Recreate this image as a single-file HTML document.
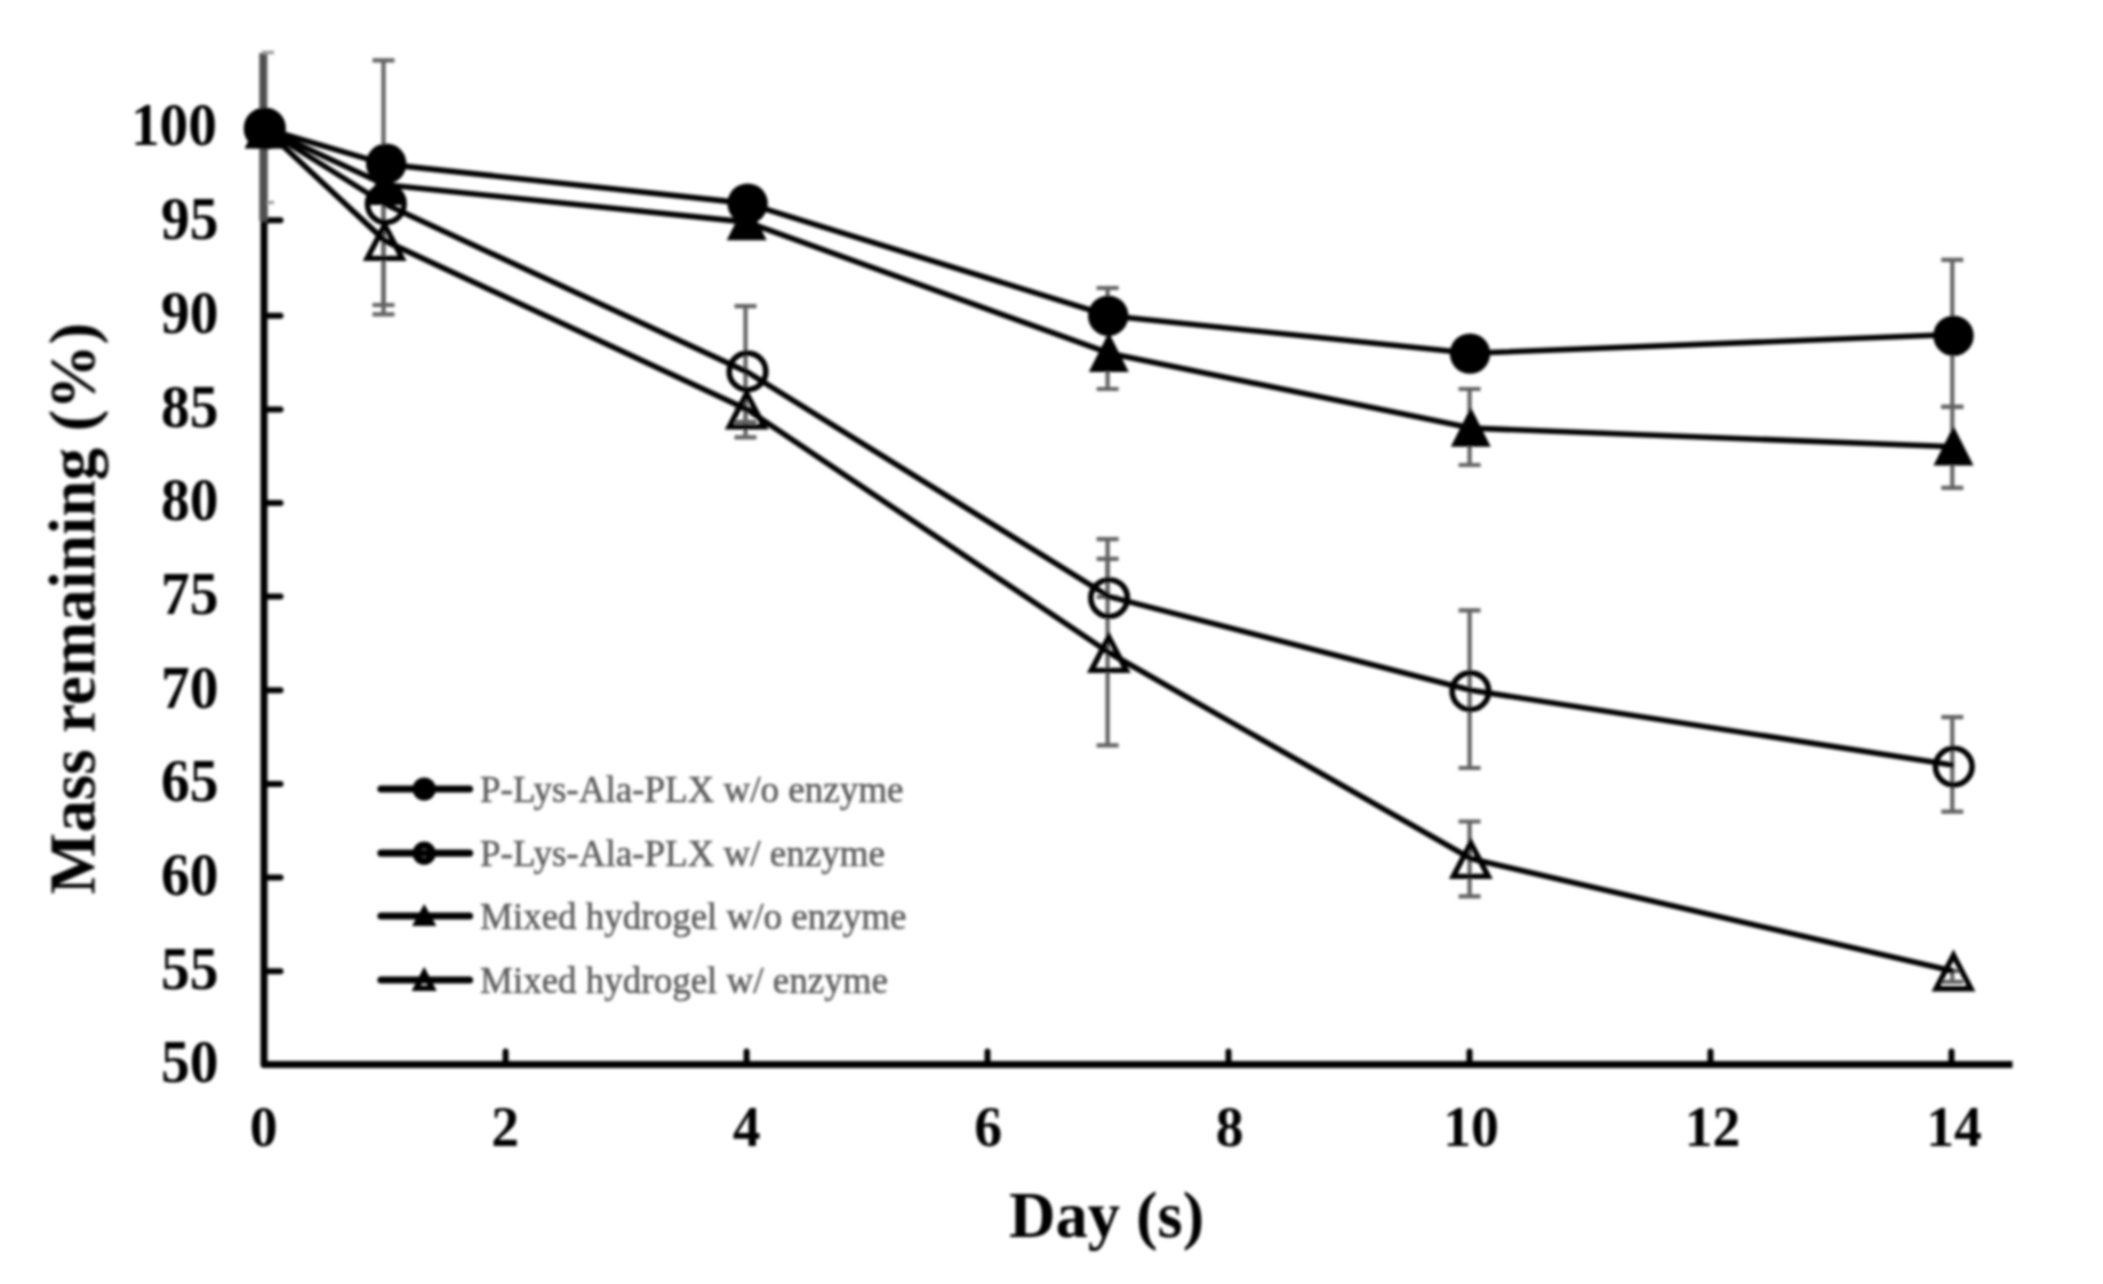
<!DOCTYPE html>
<html lang="en"><head><meta charset="utf-8"><title>Mass remaining vs Day</title>
<style>html,body{margin:0;padding:0;background:#fff}body{width:2103px;height:1284px;overflow:hidden}svg{display:block}text{font-family:"Liberation Serif",serif}.b{font-weight:bold;fill:#000}.tk{font-size:57.4px}.ax{font-size:64.5px}.lg{font-size:37px;fill:#5c5c5c;stroke:#5c5c5c;stroke-width:0.6px}</style></head><body>
<svg width="2103" height="1284" viewBox="0 0 2103 1284">
<defs><filter id="bl" x="-2%" y="-2%" width="104%" height="104%"><feGaussianBlur stdDeviation="1.5"/></filter><filter id="bl2" x="-2%" y="-5%" width="104%" height="110%"><feGaussianBlur stdDeviation="1.65"/></filter></defs>
<rect width="2103" height="1284" fill="#fff"/>
<g filter="url(#bl)">
<path d="M264 128.5 V1064.6 H2012.5" fill="none" stroke="#000" stroke-width="7" stroke-linecap="butt" stroke-linejoin="round"/>
<line x1="266" x2="280.5" y1="971.2" y2="971.2" stroke="#000" stroke-width="6" stroke-linecap="round"/>
<line x1="266" x2="280.5" y1="877.5" y2="877.5" stroke="#000" stroke-width="6" stroke-linecap="round"/>
<line x1="266" x2="280.5" y1="783.9" y2="783.9" stroke="#000" stroke-width="6" stroke-linecap="round"/>
<line x1="266" x2="280.5" y1="690.3" y2="690.3" stroke="#000" stroke-width="6" stroke-linecap="round"/>
<line x1="266" x2="280.5" y1="596.6" y2="596.6" stroke="#000" stroke-width="6" stroke-linecap="round"/>
<line x1="266" x2="280.5" y1="503.0" y2="503.0" stroke="#000" stroke-width="6" stroke-linecap="round"/>
<line x1="266" x2="280.5" y1="409.4" y2="409.4" stroke="#000" stroke-width="6" stroke-linecap="round"/>
<line x1="266" x2="280.5" y1="315.8" y2="315.8" stroke="#000" stroke-width="6" stroke-linecap="round"/>
<line x1="266" x2="280.5" y1="220.3" y2="220.3" stroke="#000" stroke-width="6" stroke-linecap="round"/>
<line x1="505.6" x2="505.6" y1="1062" y2="1051.5" stroke="#000" stroke-width="6" stroke-linecap="round"/>
<line x1="746.6" x2="746.6" y1="1062" y2="1051.5" stroke="#000" stroke-width="6" stroke-linecap="round"/>
<line x1="987.5" x2="987.5" y1="1062" y2="1051.5" stroke="#000" stroke-width="6" stroke-linecap="round"/>
<line x1="1228.5" x2="1228.5" y1="1062" y2="1051.5" stroke="#000" stroke-width="6" stroke-linecap="round"/>
<line x1="1469.5" x2="1469.5" y1="1062" y2="1051.5" stroke="#000" stroke-width="6" stroke-linecap="round"/>
<line x1="1710.5" x2="1710.5" y1="1062" y2="1051.5" stroke="#000" stroke-width="6" stroke-linecap="round"/>
<line x1="1951.5" x2="1951.5" y1="1062" y2="1051.5" stroke="#000" stroke-width="6" stroke-linecap="round"/>
<g stroke="#626262" stroke-width="4.2" fill="none">
<path d="M383.5 60.4 V305.0 M372.5 60.4 h22 M372.5 305.0 h22"/>
<path d="M383.5 164.0 V314.4 M372.5 164.0 h22 M372.5 314.4 h22"/>
<path d="M745.5 306.2 V437.3 M734.5 306.2 h22 M734.5 437.3 h22"/>
<path d="M745.5 409.0 V421.8 M734.5 409.0 h22 M734.5 421.8 h22"/>
<path d="M1107.6 288.0 V316.0 M1096.6 288.0 h22 M1096.6 316.0 h22"/>
<path d="M1107.6 316.0 V389.0 M1096.6 316.0 h22 M1096.6 389.0 h22"/>
<path d="M1107.6 539.2 V597.0 M1096.6 539.2 h22 M1096.6 597.0 h22"/>
<path d="M1107.6 558.9 V745.3 M1096.6 558.9 h22 M1096.6 745.3 h22"/>
<path d="M1469.6 389.0 V465.0 M1458.6 389.0 h22 M1458.6 465.0 h22"/>
<path d="M1469.6 610.4 V768.0 M1458.6 610.4 h22 M1458.6 768.0 h22"/>
<path d="M1469.6 821.5 V896.4 M1458.6 821.5 h22 M1458.6 896.4 h22"/>
<path d="M1952.3 259.8 V406.9 M1941.3 259.8 h22 M1941.3 406.9 h22"/>
<path d="M1952.3 406.9 V487.9 M1941.3 406.9 h22 M1941.3 487.9 h22"/>
<path d="M1952.3 717.1 V811.6 M1941.3 717.1 h22 M1941.3 811.6 h22"/>
<path d="M1952.3 971.0 V981.8 M1941.3 971.0 h22 M1941.3 981.8 h22"/>
</g>
<path d="M263.3 53 V221" stroke="#505050" stroke-width="8" fill="none"/>
<path d="M262 52.5 H274" stroke="#9a9a9a" stroke-width="3.5" fill="none"/>
<path d="M267 202.5 H274" stroke="#a0a0a0" stroke-width="3.5" fill="none"/>
<polyline points="264.3,128.5 385.0,240.9 747.0,409.4 1109.1,652.8 1471.1,858.8 1953.8,971.2" fill="none" stroke="#000" stroke-width="5.6" stroke-linejoin="round"/>
<polyline points="264.3,128.5 385.0,204.0 747.0,371.9 1109.1,596.6 1471.1,690.3 1953.8,765.2" fill="none" stroke="#000" stroke-width="5.6" stroke-linejoin="round"/>
<polyline points="264.3,128.5 385.0,184.7 747.0,222.1 1109.1,353.2 1471.1,428.1 1953.8,446.8" fill="none" stroke="#000" stroke-width="5.6" stroke-linejoin="round"/>
<polyline points="264.3,128.5 385.0,164.1 747.0,203.4 1109.1,315.8 1471.1,353.2 1953.8,334.5" fill="none" stroke="#000" stroke-width="5.6" stroke-linejoin="round"/>
<path d="M264.0 115.5 L278.8 145.5 H249.2 Z" fill="none" stroke="#000" stroke-width="5.4" stroke-linejoin="miter"/>
<path d="M384.7 224.9 L402.2 258.4 H367.2 Z" fill="none" stroke="#000" stroke-width="5.4" stroke-linejoin="miter"/>
<path d="M746.7 393.4 L764.2 426.9 H729.2 Z" fill="none" stroke="#000" stroke-width="5.4" stroke-linejoin="miter"/>
<path d="M1108.8 636.9 L1126.3 670.4 H1091.3 Z" fill="none" stroke="#000" stroke-width="5.4" stroke-linejoin="miter"/>
<path d="M1470.8 842.9 L1488.3 876.4 H1453.3 Z" fill="none" stroke="#000" stroke-width="5.4" stroke-linejoin="miter"/>
<path d="M1953.5 955.2 L1971.0 988.7 H1936.0 Z" fill="none" stroke="#000" stroke-width="5.4" stroke-linejoin="miter"/>
<circle cx="264.8" cy="128.5" r="18.3" fill="none" stroke="#000" stroke-width="5.6"/>
<circle cx="385.8" cy="204.0" r="18.3" fill="none" stroke="#000" stroke-width="5.6"/>
<circle cx="747.5" cy="371.4" r="18.3" fill="none" stroke="#000" stroke-width="5.6"/>
<circle cx="1109.1" cy="598.0" r="18.3" fill="none" stroke="#000" stroke-width="5.6"/>
<circle cx="1470.4" cy="691.2" r="18.3" fill="none" stroke="#000" stroke-width="5.6"/>
<circle cx="1953.8" cy="766.6" r="18.3" fill="none" stroke="#000" stroke-width="5.6"/>
<path d="M264.0 108.9 L283.2 148.4 H244.8 Z" fill="#000"/>
<path d="M384.7 165.6 L404.7 205.1 H364.7 Z" fill="#000"/>
<path d="M746.7 200.8 L766.7 240.3 H726.7 Z" fill="#000"/>
<path d="M1108.8 332.4 L1128.8 371.9 H1088.8 Z" fill="#000"/>
<path d="M1470.8 407.3 L1490.8 446.8 H1450.8 Z" fill="#000"/>
<path d="M1953.5 426.0 L1973.5 465.5 H1933.5 Z" fill="#000"/>
<circle cx="264.9" cy="128.2" r="20.2" fill="#000"/>
<circle cx="386.2" cy="163.7" r="20.2" fill="#000"/>
<circle cx="747.6" cy="203.6" r="20.2" fill="#000"/>
<circle cx="1108.2" cy="315.8" r="20.2" fill="#000"/>
<circle cx="1470.0" cy="353.6" r="20.2" fill="#000"/>
<circle cx="1953.5" cy="335.8" r="20.2" fill="#000"/>
<text class="b tk" transform="translate(218.5 1082.1) scale(1 1.054)" text-anchor="end">50</text>
<text class="b tk" transform="translate(218.5 988.5) scale(1 1.054)" text-anchor="end">55</text>
<text class="b tk" transform="translate(218.5 894.8) scale(1 1.054)" text-anchor="end">60</text>
<text class="b tk" transform="translate(218.5 801.2) scale(1 1.054)" text-anchor="end">65</text>
<text class="b tk" transform="translate(218.5 707.6) scale(1 1.054)" text-anchor="end">70</text>
<text class="b tk" transform="translate(218.5 613.9) scale(1 1.054)" text-anchor="end">75</text>
<text class="b tk" transform="translate(218.5 520.3) scale(1 1.054)" text-anchor="end">80</text>
<text class="b tk" transform="translate(218.5 426.7) scale(1 1.054)" text-anchor="end">85</text>
<text class="b tk" transform="translate(218.5 333.1) scale(1 1.054)" text-anchor="end">90</text>
<text class="b tk" transform="translate(218.5 239.4) scale(1 1.054)" text-anchor="end">95</text>
<text class="b tk" transform="translate(217.0 144.8) scale(1 1.054)" text-anchor="end">100</text>
<text class="b tk" style="font-size:55.7px" transform="translate(263.7 1146.3) scale(1 1.04)" text-anchor="middle">0</text>
<text class="b tk" style="font-size:55.7px" transform="translate(505.2 1146.3) scale(1 1.04)" text-anchor="middle">2</text>
<text class="b tk" style="font-size:55.7px" transform="translate(746.7 1146.3) scale(1 1.04)" text-anchor="middle">4</text>
<text class="b tk" style="font-size:55.7px" transform="translate(988.1 1146.3) scale(1 1.04)" text-anchor="middle">6</text>
<text class="b tk" style="font-size:55.7px" transform="translate(1229.6 1146.3) scale(1 1.04)" text-anchor="middle">8</text>
<text class="b tk" style="font-size:55.7px" transform="translate(1471.1 1146.3) scale(1 1.04)" text-anchor="middle">10</text>
<text class="b tk" style="font-size:55.7px" transform="translate(1712.6 1146.3) scale(1 1.04)" text-anchor="middle">12</text>
<text class="b tk" style="font-size:55.7px" transform="translate(1954.1 1146.3) scale(1 1.04)" text-anchor="middle">14</text>
<text class="b ax" transform="translate(1106.5 1237) scale(1 1.02)" text-anchor="middle">Day (s)</text>
<text class="b ax" transform="translate(94.5 608.5) rotate(-90) scale(1.012 1)" text-anchor="middle">Mass remaining (%)</text>
<line x1="381" x2="469.5" y1="789" y2="789" stroke="#000" stroke-width="7.2" stroke-linecap="round"/>
<circle cx="424.2" cy="789" r="11.6" fill="#000"/>
<line x1="381" x2="469.5" y1="853.2" y2="853.2" stroke="#000" stroke-width="7.2" stroke-linecap="round"/>
<circle cx="424.2" cy="853.2" r="8" fill="none" stroke="#000" stroke-width="7.2"/>
<line x1="381" x2="469.5" y1="916" y2="916" stroke="#000" stroke-width="7.2" stroke-linecap="round"/>
<path d="M424.2 906.0 L434.7 925.0 H413.7 Z" fill="#000" stroke="#000" stroke-width="2"/>
<line x1="381" x2="469.5" y1="980" y2="980" stroke="#000" stroke-width="7.2" stroke-linecap="round"/>
<path d="M424.2 972.8 L432.2 988.2 H416.2 Z" fill="none" stroke="#000" stroke-width="5.6"/>
</g>
<g filter="url(#bl2)">
<text class="lg" x="480" y="802.2">P-Lys-Ala-PLX w/o enzyme</text>
<text class="lg" x="480" y="866.4">P-Lys-Ala-PLX w/ enzyme</text>
<text class="lg" x="480" y="929.2">Mixed hydrogel w/o enzyme</text>
<text class="lg" x="480" y="993.2">Mixed hydrogel w/ enzyme</text>
</g>
</svg></body></html>
